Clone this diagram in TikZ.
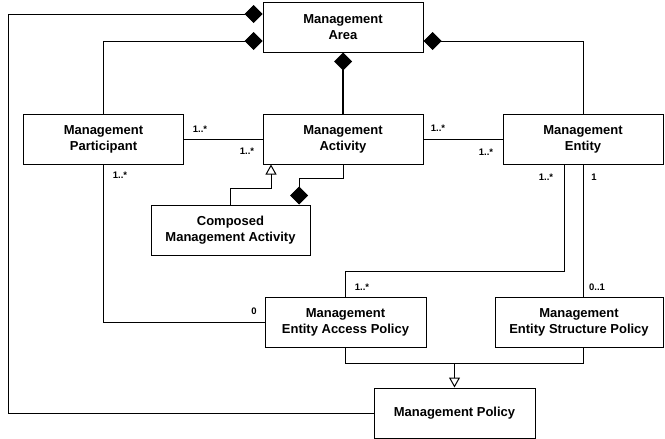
\documentclass[tikz,border=0pt]{standalone}
\usepackage{fontspec}
\setmainfont{Liberation Sans}
\usepackage{tikz}
\usetikzlibrary{arrows.meta}
\tikzset {>=Stealth}
\tikzset{
  box/.style={draw,line width=1pt,minimum width=160pt,minimum height=50pt,
    inner sep=0pt,align=center,font=\fontsize{13}{16}\selectfont\bfseries},
  mult/.style={inner sep=0pt,font=\fontsize{9.5}{11}\selectfont\bfseries},
  assoc/.style={line width=1pt},
  comp/.style={line width=1pt,-{Diamond[length=18pt,width=18pt]}},
  gen/.style={line width=1pt,-{Triangle[open,length=10pt,width=11pt]}}
}

\begin{document}
\begin{tikzpicture}[x=1pt,y=-1pt]
\useasboundingbox (0,0) rectangle (665,439);
\node[box] (area) at (343,27) {Management\\Area};
\node[box] (participant) at (103.5,139) {Management\\Participant};
\node[box] (activity) at (343,139) {Management\\Activity};
\node[box] (entity) at (583,139) {Management\\Entity};
\node[box,minimum width=159pt] (composed) at (230.5,230) {Composed\\Management Activity};
\node[box,minimum width=161pt] (access) at (345.5,322) {Management\\Entity Access Policy};
\node[box,minimum width=168pt] (structure) at (579,322) {Management\\Entity Structure Policy};
\node[box,minimum width=161pt] (policy) at (454.5,413) {Management Policy};
\coordinate (join) at (454.5,363);

\draw[comp] (policy.west) -| (8,14) -- ([yshift=13pt]area.west);
\draw[comp] (participant.north) |- ([yshift=-14pt]area.west);
\draw[comp] (entity.north) |- ([yshift=-14pt]area.east);
\draw[comp,line width=2pt] (activity.north) -- (area.south);
\draw[assoc] (participant.east) -- (activity.west);
\draw[assoc] (activity.east) -- (entity.west);
\draw[gen] (composed.north) -- ++(0,-16) -| ([xshift=-72pt]activity.south);
\draw[comp] (activity.south) -- ++(0,14) -| ([xshift=68.5pt]composed.north);
\draw[assoc] (participant.south) |- (access.west);
\draw[assoc] ([xshift=-19pt]entity.south) -- ++(0,107) -| (access.north);
\draw[assoc] (entity.south) -- (entity.south |- structure.north);
\draw[assoc] (access.south) -- ++(0,16) -| (entity.south |- structure.south);
\draw[gen] (join) -- (policy.north);

\node[mult] (pa) at (200,129) {1..*};
\node[mult] (ap) at (247,151) {1..*};
\node[mult] (ae) at (438,128) {1..*};
\node[mult] (ea) at (486,152) {1..*};
\node[mult] (px) at (120,175) {1..*};
\node[mult] (xp) at (254,311) {0};
\node[mult] (ex) at (546,177) {1..*};
\node[mult] (xe) at (362,287) {1..*};
\node[mult] (es) at (594,177) {1};
\node[mult] (se) at (597,287) {0..1};
\end{tikzpicture}
\end{document}
